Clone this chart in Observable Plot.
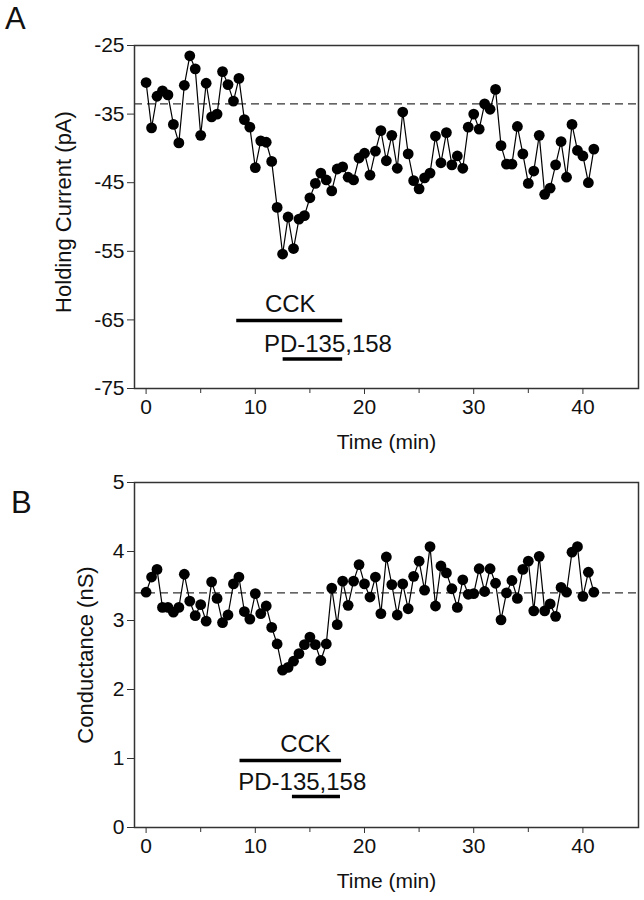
<!DOCTYPE html>
<html>
<head>
<meta charset="utf-8">
<script src="https://cdn.jsdelivr.net/npm/d3@7"></script>
<script src="https://cdn.jsdelivr.net/npm/@observablehq/plot@0.6"></script>
<style>
  html, body { margin: 0; padding: 0; background: #fff; }
  #wrap { position: relative; width: 644px; height: 900px; font-family: "Liberation Sans", Arial, sans-serif; }
  #wrap svg { display: block; }
  .panel { position: absolute; font-size: 31px; line-height: 31px; color: #111; }
</style>
</head>
<body>
<div id="wrap">
  <div id="chartA"></div>
  <div id="chartB"></div>
  <div class="panel" style="left:5px; top:3px;">A</div>
  <div class="panel" style="left:11px; top:487px;">B</div>
</div>
<script>
// ---- data ----
const times = [0,0.5,1,1.5,2,2.5,3,3.5,4,4.5,5,5.5,6,6.5,7,7.5,8,8.5,9,9.5,
  10,10.5,11,11.5,12,12.5,13,13.5,14,14.5,15,15.5,16,16.5,17,17.5,18,18.5,19,19.5,
  20,20.5,21,21.5,22,22.5,23,23.5,24,24.5,25,25.5,26,26.5,27,27.5,28,28.5,29,29.5,
  30,30.5,31,31.5,32,32.5,33,33.5,34,34.5,35,35.5,36,36.5,37,37.5,38,38.5,39,39.5,
  40,40.5,41];

const holdingCurrent = [-30.4,-37.0,-32.4,-31.6,-32.2,-36.5,-39.2,-30.8,-26.5,-28.4,
  -38.1,-30.5,-35.4,-35.0,-28.8,-30.7,-33.1,-29.8,-35.8,-36.9,
  -42.8,-38.9,-39.1,-41.9,-48.6,-55.4,-50.0,-54.6,-50.3,-49.8,
  -47.2,-45.1,-43.6,-44.6,-46.2,-43.0,-42.7,-44.2,-44.6,-41.4,
  -40.7,-43.9,-40.4,-37.4,-41.8,-38.1,-42.9,-34.7,-40.8,-44.7,
  -45.9,-44.3,-43.6,-38.2,-42.1,-37.7,-42.4,-41.1,-42.9,-36.9,
  -35.0,-37.2,-33.5,-34.3,-31.4,-39.6,-42.3,-42.3,-36.8,-40.8,
  -45.1,-43.3,-38.1,-46.7,-45.8,-42.4,-39.0,-44.2,-36.5,-40.3,
  -41.1,-45.0,-40.1];

const conductance = [3.41,3.63,3.74,3.19,3.19,3.12,3.19,3.67,3.28,3.07,
  3.23,2.99,3.56,3.32,2.97,3.08,3.53,3.63,3.13,3.02,
  3.39,3.10,3.21,2.90,2.66,2.28,2.32,2.41,2.52,2.65,
  2.76,2.65,2.42,2.66,3.47,2.94,3.57,3.22,3.57,3.81,
  3.53,3.34,3.63,3.10,3.92,3.52,3.08,3.53,3.17,3.64,
  3.86,3.44,4.07,3.21,3.79,3.69,3.46,3.19,3.59,3.38,
  3.39,3.75,3.42,3.75,3.54,3.01,3.40,3.58,3.32,3.74,
  3.86,3.14,3.93,3.14,3.24,3.06,3.48,3.41,3.99,4.07,
  3.35,3.70,3.41];

const baselineA = [-33.5];
const baselineB = [3.4];

const xTicks = [0, 10, 20, 30, 40];
const xMinorTicks = [5, 15, 25, 35];
const yTicksA = [-75, -65, -55, -45, -35, -25];
const yTicksB = [0, 1, 2, 3, 4, 5];

const xLabel = "Time (min)";
const yLabelA = "Holding Current (pA)";
const yLabelB = "Conductance (nS)";

// drug application bars
const barNames = ["CCK", "PD-135,158"];
const barStartA = [8.3, 12.55];
const barEndA = [18.0, 18.0];
const barLevelA = [-65.1, -70.7];
const labelXA = [13.2, 16.65];
const labelYA = [-62.7, -68.5];

const barStartB = [8.6, 13.4];
const barEndB = [17.9, 17.8];
const barLevelB = [0.97, 0.45];
const labelXB = [14.6, 14.3];
const labelYB = [1.2, 0.66];

// ---- build ----
const fontFamily = '"Liberation Sans", Arial, sans-serif';
const fmt = d => String(d);

function panel({values, yDomain, yTicks, baseline, yLabel, yLabelDx, yLabelDy, barStart, barEnd, barLevel, labelX, labelY, height, marginTop, marginBottom}) {
  const pts = times.map((t, i) => ({t, v: values[i]}));
  const bars = barNames.map((n, i) => ({x1: barStart[i], x2: barEnd[i], y: barLevel[i]}));
  const labels = barNames.map((n, i) => ({text: n, x: labelX[i], y: labelY[i]}));
  return Plot.plot({
    width: 644,
    height,
    marginLeft: 134,
    marginRight: 6,
    marginTop,
    marginBottom,
    x: {domain: [-1.062, 45.09]},
    y: {domain: yDomain},
    style: {fontFamily, fontSize: "21px", color: "#111", background: "#fff"},
    marks: [
      Plot.frame({stroke: "#333", strokeWidth: 1.5}),
      Plot.ruleY(baseline, {stroke: "#333", strokeWidth: 1.3, strokeDasharray: "8,5"}),
      Plot.axisX({ticks: xTicks, tickSize: 6, tickPadding: 5, tickFormat: fmt, label: null, stroke: "#333", fontSize: 21}),
      Plot.axisX({ticks: xMinorTicks, tickSize: 5, tickFormat: () => "", label: null, stroke: "#333"}),
      Plot.axisY({ticks: yTicks, tickSize: 7, tickPadding: 3, tickFormat: fmt, label: null, stroke: "#333", fontSize: 21}),
      Plot.text([yLabel], {text: d => d, frameAnchor: "left", textAnchor: "middle", dx: yLabelDx, dy: yLabelDy, rotate: -90, fontSize: 22}),
      Plot.text([xLabel], {text: d => d, frameAnchor: "bottom", textAnchor: "middle", dy: 60, fontSize: 21}),
      Plot.line(pts, {x: "t", y: "v", stroke: "#000", strokeWidth: 1.2}),
      Plot.dot(pts, {x: "t", y: "v", r: 5.4, fill: "#000"}),
      Plot.ruleY(bars, {y: "y", x1: "x1", x2: "x2", stroke: "#000", strokeWidth: 3.5}),
      Plot.text(labels, {x: "x", y: "y", text: "text", fontSize: 24})
    ]
  });
}

document.getElementById("chartA").append(panel({
  values: holdingCurrent, yDomain: [-75, -25], yTicks: yTicksA, baseline: baselineA,
  yLabel: yLabelA, yLabelDx: -71, yLabelDy: -5,
  barStart: barStartA, barEnd: barEndA, barLevel: barLevelA, labelX: labelXA, labelY: labelYA,
  height: 460, marginTop: 45, marginBottom: 72
}));

document.getElementById("chartB").append(panel({
  values: conductance, yDomain: [0, 5], yTicks: yTicksB, baseline: baselineB,
  yLabel: yLabelB, yLabelDx: -49, yLabelDy: 0,
  barStart: barStartB, barEnd: barEndB, barLevel: barLevelB, labelX: labelXB, labelY: labelYB,
  height: 440, marginTop: 22, marginBottom: 73
}));
</script>
</body>
</html>
